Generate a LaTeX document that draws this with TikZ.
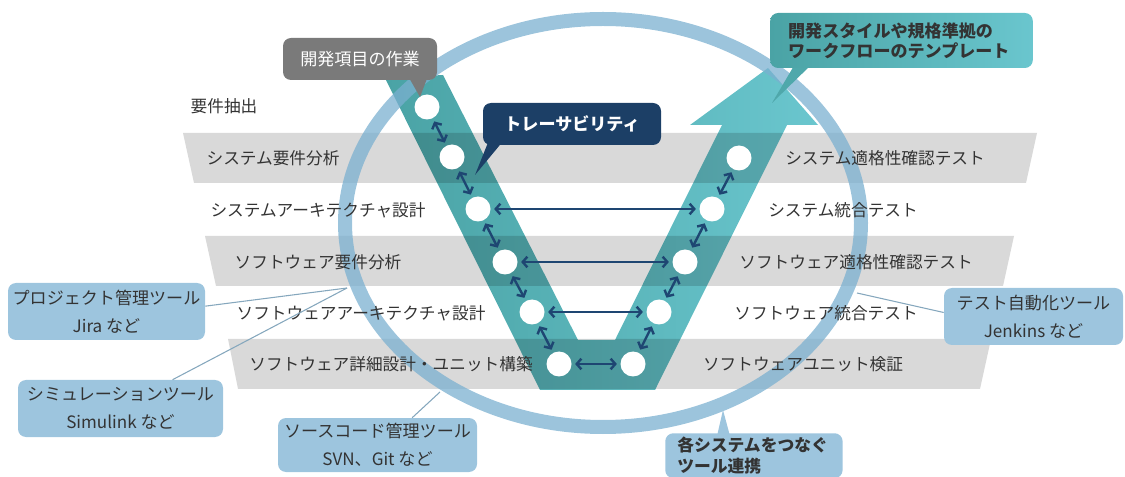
\documentclass[tikz,border=0pt]{standalone}
\usepackage{fontspec}
\setmainfont{Noto Sans CJK JP}
\usetikzlibrary{arrows.meta}
\definecolor{bandGray}{HTML}{D9D9D9}
\definecolor{vTealLeft}{HTML}{4AA3A5}
\definecolor{vTealRight}{HTML}{6AC6CE}
\definecolor{ringBlue}{HTML}{7BB0D0}
\definecolor{devGray}{HTML}{7A7A7A}
\definecolor{traceNavy}{HTML}{1C3F66}
\definecolor{arrowNavy}{HTML}{1E4672}
\definecolor{toolBlue}{HTML}{9DC5DE}
\definecolor{labelGray}{HTML}{333333}
\colorlet{tplLeft}{vTealLeft}
\colorlet{tplRight}{vTealRight}

\begin{document}
\begin{tikzpicture}[x=0.75pt, y=-0.75pt,
  lbl/.style={text=labelGray, font=\fontsize{12.5}{15}\selectfont, inner sep=0pt},
  stepdot/.style={circle, fill=white, minimum size=18.75pt, inner sep=0pt},
  link/.style={draw=arrowNavy, line width=1.8pt, >={Straight Barb[length=3.5pt,width=8pt]}, <->, shorten <=2.5pt, shorten >=2.5pt},
  toolbox/.style={fill=toolBlue, rounded corners=6pt, text=labelGray, align=center, inner sep=0pt, font=\fontsize{12.8}{21}\selectfont},
  toolline/.style={draw=toolBlue!85!black, line width=0.8pt},
  callout/.style={rounded corners=6pt, inner sep=0pt, font=\fontsize{12.8}{15}\selectfont}]
  \useasboundingbox (0,0) rectangle (1125,477);

  % V-model body
  \shade[left color=vTealLeft, right color=vTealRight]
    (385,78) -- (443,75) -- (578,340) -- (615,340) -- (722,125) -- (690,125) -- (768,68)
    -- (818,125) -- (787,125) -- (655,390) -- (540,390) -- cycle;

  % phase bands
  \begin{scope}[blend mode=multiply]
    \fill[bandGray] (183,133) -- (1037,133) -- (1026,183) -- (194,183) -- cycle;
    \fill[bandGray] (205,236) -- (1014,236) -- (1003,286) -- (216,286) -- cycle;
    \fill[bandGray] (228,339) -- (991,339) -- (980,389) -- (238,389) -- cycle;
  \end{scope}

  % tool ring
  \draw[ringBlue, line width=10.5pt, opacity=0.75] (603,223) ellipse [x radius=193.5pt, y radius=153pt];

  % steps
  \node[stepdot] (L1) at (427,107) {};
  \node[stepdot] (L2) at (452,157) {};
  \node[stepdot] (L3) at (478,209) {};
  \node[stepdot] (L4) at (505,262) {};
  \node[stepdot] (L5) at (532,312) {};
  \node[stepdot] (L6) at (559,364) {};
  \node[stepdot] (R2) at (739,158) {};
  \node[stepdot] (R3) at (712,209) {};
  \node[stepdot] (R4) at (685,262) {};
  \node[stepdot] (R5) at (659,312) {};
  \node[stepdot] (R6) at (633,364) {};

  \draw[link] (L1) -- (L2);
  \draw[link] (L2) -- (L3);
  \draw[link] (L3) -- (L4);
  \draw[link] (L4) -- (L5);
  \draw[link] (L5) -- (L6);
  \draw[link] (R2) -- (R3);
  \draw[link] (R3) -- (R4);
  \draw[link] (R4) -- (R5);
  \draw[link] (R5) -- (R6);
  \draw[link] (L3) -- (R3);
  \draw[link] (L4) -- (R4);
  \draw[link] (L5) -- (R5);
  \draw[link] (L6) -- (R6);

  % phase labels
  \node[lbl] (reqExtract) at (224,106) {要件抽出};
  \node[lbl] (sysReq) at (273,158) {システム要件分析};
  \node[lbl] (sysArch) at (318,210) {システムアーキテクチャ設計};
  \node[lbl] (swReq) at (318,262) {ソフトウェア要件分析};
  \node[lbl] (swArch) at (361,313) {ソフトウェアアーキテクチャ設計};
  \node[lbl] (swDetail) at (391,364) {ソフトウェア詳細設計・ユニット構築};
  \node[lbl] (sysQual) at (885,158) {システム適格性確認テスト};
  \node[lbl] (sysInteg) at (843,210) {システム統合テスト};
  \node[lbl] (swQual) at (856,262) {ソフトウェア適格性確認テスト};
  \node[lbl] (swInteg) at (826,313) {ソフトウェア統合テスト};
  \node[lbl] (swUnit) at (803,364) {ソフトウェアユニット検証};

  % callouts
  \fill[devGray] (408,76) -- (428,76) -- (420,97) -- cycle;
  \node[callout, fill=devGray, text=white, minimum width=115.5pt, minimum height=31.5pt] (devBox) at (360,59) {開発項目の作業};
  \fill[traceNavy] (489,140) -- (504,140) -- (475,175) -- cycle;
  \node[callout, fill=traceNavy, text=white, font=\fontsize{12.8}{15}\selectfont\bfseries, minimum width=133.5pt, minimum height=31.5pt] (traceBox) at (572,124) {トレーサビリティ};
  \fill[tplLeft!85!tplRight] (795,64) -- (812,64) -- (772,103) -- cycle;
  \node[callout, left color=tplLeft, right color=tplRight, text=labelGray, font=\fontsize{12.8}{15}\selectfont\bfseries, align=left, text width=170pt, inner xsep=13.5pt, minimum height=41.25pt] (tplBox) at (901.5,40.5) {開発スタイルや規格準拠の\\ワークフローのテンプレート};
  \fill[toolBlue] (717,436) -- (730,436) -- (723,410) -- cycle;
  \node[callout, fill=toolBlue, text=labelGray, font=\fontsize{12.6}{15.5}\selectfont\bfseries, align=left, text width=115pt, inner xsep=9pt, inner ysep=3pt, anchor=north west] (linkBox) at (665,433) {各システムをつなぐ\\ツール連携};

  % tool boxes
  \node[toolbox, minimum width=147.75pt, minimum height=42.75pt] (jiraBox) at (106.5,311.5) {プロジェクト管理ツール\\Jira など};
  \node[toolbox, minimum width=153.75pt, minimum height=42.75pt] (simBox) at (120.5,408.5) {シミュレーションツール\\Simulink など};
  \node[toolbox, minimum width=149.25pt, minimum height=40.5pt] (gitBox) at (377.5,445) {ソースコード管理ツール\\SVN、Git など};
  \node[toolbox, minimum width=134.25pt, minimum height=42.75pt] (ciBox) at (1033.5,316.5) {テスト自動化ツール\\Jenkins など};

  \coordinate (ringPM) at (347,288);
  \coordinate (ringSCM) at (440,392);
  \coordinate (ringCI) at (857,293);
  \draw[toolline] ([yshift=4pt]jiraBox.east) -- (ringPM);
  \draw[toolline] ([xshift=39pt]simBox.north) -- (ringPM);
  \draw[toolline] ([xshift=26pt]gitBox.north) -- (ringSCM);
  \draw[toolline] ([yshift=3pt]ciBox.west) -- (ringCI);
\end{tikzpicture}
\end{document}
